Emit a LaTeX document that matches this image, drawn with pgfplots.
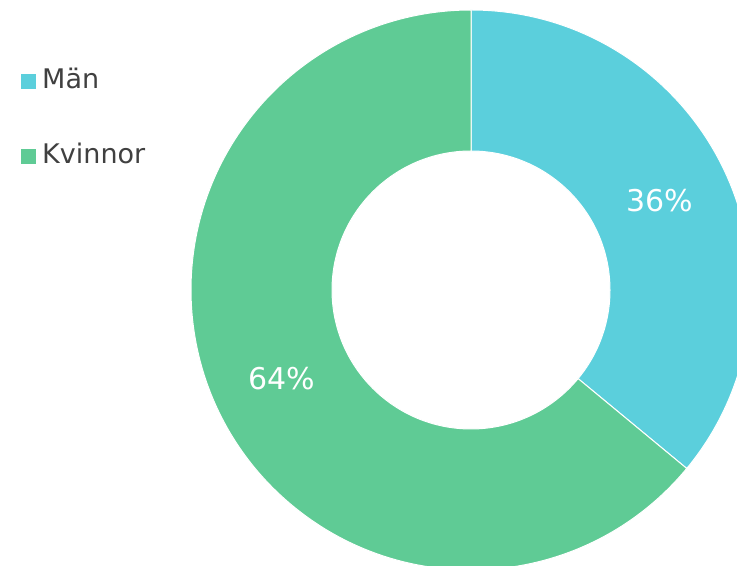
\documentclass[border=0pt]{standalone}
\usepackage{fontspec}
\setmainfont{DejaVu Sans}
\usepackage{pgfplots}
\usepackage{pgfplotstable}
\pgfplotsset{compat=1.18}
\usetikzlibrary{calc}

\definecolor{cMan}{HTML}{5BCFDC}
\definecolor{cKv}{HTML}{5FCB95}
\definecolor{txt}{HTML}{404040}

\pgfplotstableread{
label   value
Män     36
Kvinnor 64
}\sharetable

\begin{document}
\begin{tikzpicture}
\pgfplotstablegetelem{0}{value}\of\sharetable \let\vA\pgfplotsretval
\pgfplotstablegetelem{1}{value}\of\sharetable \let\vB\pgfplotsretval
\pgfmathsetmacro\aS{90}
\pgfmathsetmacro\aM{90-3.6*\vA}
\pgfmathsetmacro\aE{\aM-3.6*\vB}
\pgfmathsetmacro\mA{(\aS+\aM)/2}
\pgfmathsetmacro\mB{(\aM+\aE)/2}
\newcommand\sector[3]{%
  \fill[#3, draw=white, line width=1bp]
    ($(axis cs:471,276)+(#1:280bp)$) arc[start angle=#1, end angle=#2, radius=280bp]
    -- ($(axis cs:471,276)+(#2:139bp)$) arc[start angle=#2, end angle=#1, radius=139bp]
    -- cycle;}
\path[use as bounding box] (0,0) rectangle (737bp,566bp);
\begin{axis}[
    at={(0,0)}, anchor=south west,
    scale only axis,
    width=737bp, height=566bp,
    xmin=0, xmax=737, ymin=0, ymax=566,
    hide axis,
    clip=true,
    legend style={draw=none, fill=none,
        at={(axis cs:21,498)}, anchor=north west,
        font=\fontsize{27bp}{31bp}\selectfont, text=txt,
        inner sep=0pt, row sep=49bp, column sep=0bp,
        nodes={inner sep=0pt, text height=20bp, text depth=6bp}},
    legend cell align=left,
    legend image code/.code={\fill[#1] (0bp,-7.5bp) rectangle (15bp,7.5bp);},
]
\sector{\aS}{\aM}{cMan}
\sector{\aM}{\aE}{cKv}
\node[text=white, font=\fontsize{30bp}{35bp}\selectfont]
    at ($(axis cs:471,276)+(\mA:209bp)$) {\vA\%};
\node[text=white, font=\fontsize{30bp}{35bp}\selectfont]
    at ($(axis cs:471,276)+(\mB:209bp)$) {\vB\%};
\addlegendimage{fill=cMan, draw=none}
\addlegendentry{\hspace{6bp}Män}
\addlegendimage{fill=cKv, draw=none}
\addlegendentry{\hspace{6bp}Kvinnor}
\end{axis}
\end{tikzpicture}
\end{document}
